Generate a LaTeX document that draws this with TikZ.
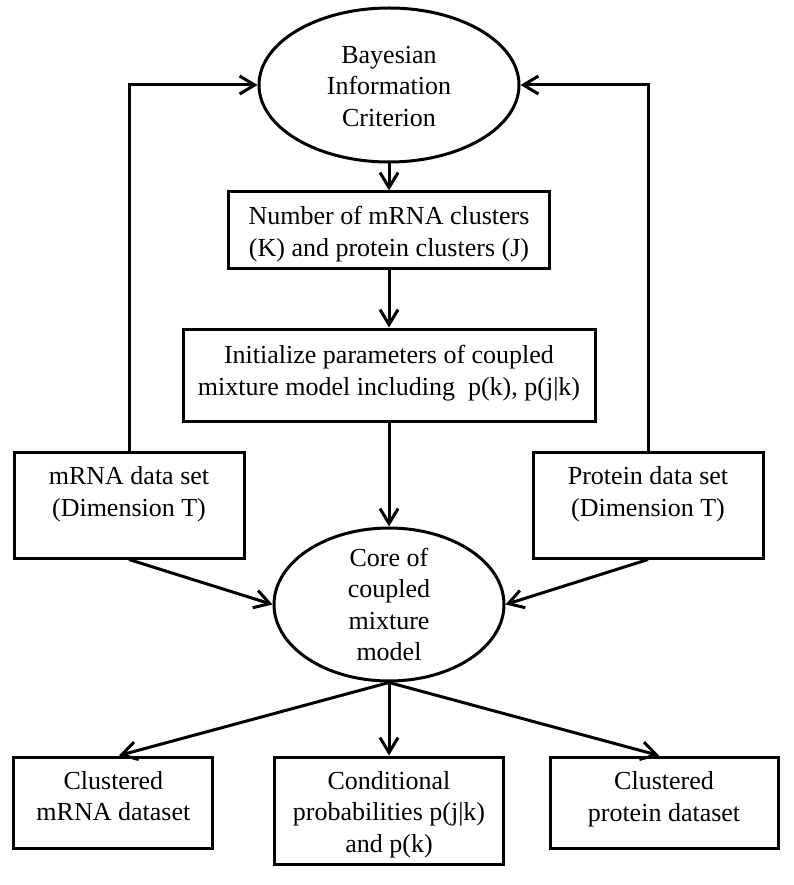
\documentclass[tikz,border=0pt]{standalone}
\usepackage{fontspec}
\setmainfont{Liberation Serif}
\usetikzlibrary{arrows.meta,shapes.geometric}
\begin{document}
\begin{tikzpicture}[x=1pt,y=-1pt,
  box/.style={draw, rectangle, line width=3pt, inner sep=0pt},
  oval/.style={draw, ellipse, line width=3pt, inner sep=0pt},
  txt/.style={align=center, font=\fontsize{26}{31.5}\selectfont, inner sep=0pt},
  arr/.style={line width=3pt, -{Straight Barb[length=15pt,width=18pt]}}
]
\useasboundingbox (0,0) rectangle (794,885);

\node[oval, minimum width=260pt, minimum height=154pt,
  label={[txt,yshift=-1.5pt]center:{Bayesian\\Information\\Criterion}}] (bic) at (389,85) {};
\node[box, minimum width=321pt, minimum height=76pt,
  label={[txt,yshift=-4pt]center:{Number of mRNA clusters\\(K) and protein clusters (J)}}] (num) at (389,230) {};
\node[box, minimum width=412pt, minimum height=92pt,
  label={[txt,yshift=2pt]center:{Initialize parameters of coupled\\mixture model including~ p(k), p(j|k)}}] (init) at (389,375) {};
\node[box, minimum width=230pt, minimum height=106pt,
  label={[txt,yshift=10.6pt]center:{mRNA data set\\(Dimension T)}}] (mrna) at (129,505) {};
\node[box, minimum width=230pt, minimum height=106pt,
  label={[txt,yshift=10.6pt]center:{Protein data set\\(Dimension T)}}] (prot) at (648,505) {};
\node[oval, minimum width=230pt, minimum height=153pt,
  label={[txt]center:{Core of\\coupled\\mixture\\model}}] (core) at (389,604.5) {};
\node[box, minimum width=199pt, minimum height=91pt,
  label={[txt,yshift=6.2pt]center:{Clustered\\mRNA dataset}}] (cm) at (113.4,802.5) {};
\node[box, minimum width=229pt, minimum height=107pt,
  label={[txt,yshift=-3.9pt]center:{Conditional\\probabilities p(j|k)\\and p(k)}}] (cp) at (389,810.5) {};
\node[box, minimum width=228pt, minimum height=91pt,
  label={[txt,yshift=3.5pt]center:{Clustered\\protein dataset}}] (cpr) at (664,802.5) {};

\draw[arr] (bic.south) -- (num.north);
\draw[arr] (num.south) -- (init.north);
\draw[arr] (init.south) -- (core.north);
\draw[arr] (mrna.north) |- (bic.west);
\draw[arr] (prot.north) |- (bic.east);
\draw[arr] (mrna.south) -- (core.west);
\draw[arr] (prot.south) -- (core.east);
\draw[arr] (core.south) -- ([xshift=5.6pt]cm.north);
\draw[arr] (core.south) -- (cp.north);
\draw[arr] (core.south) -- ([xshift=-5pt]cpr.north);
\end{tikzpicture}
\end{document}
